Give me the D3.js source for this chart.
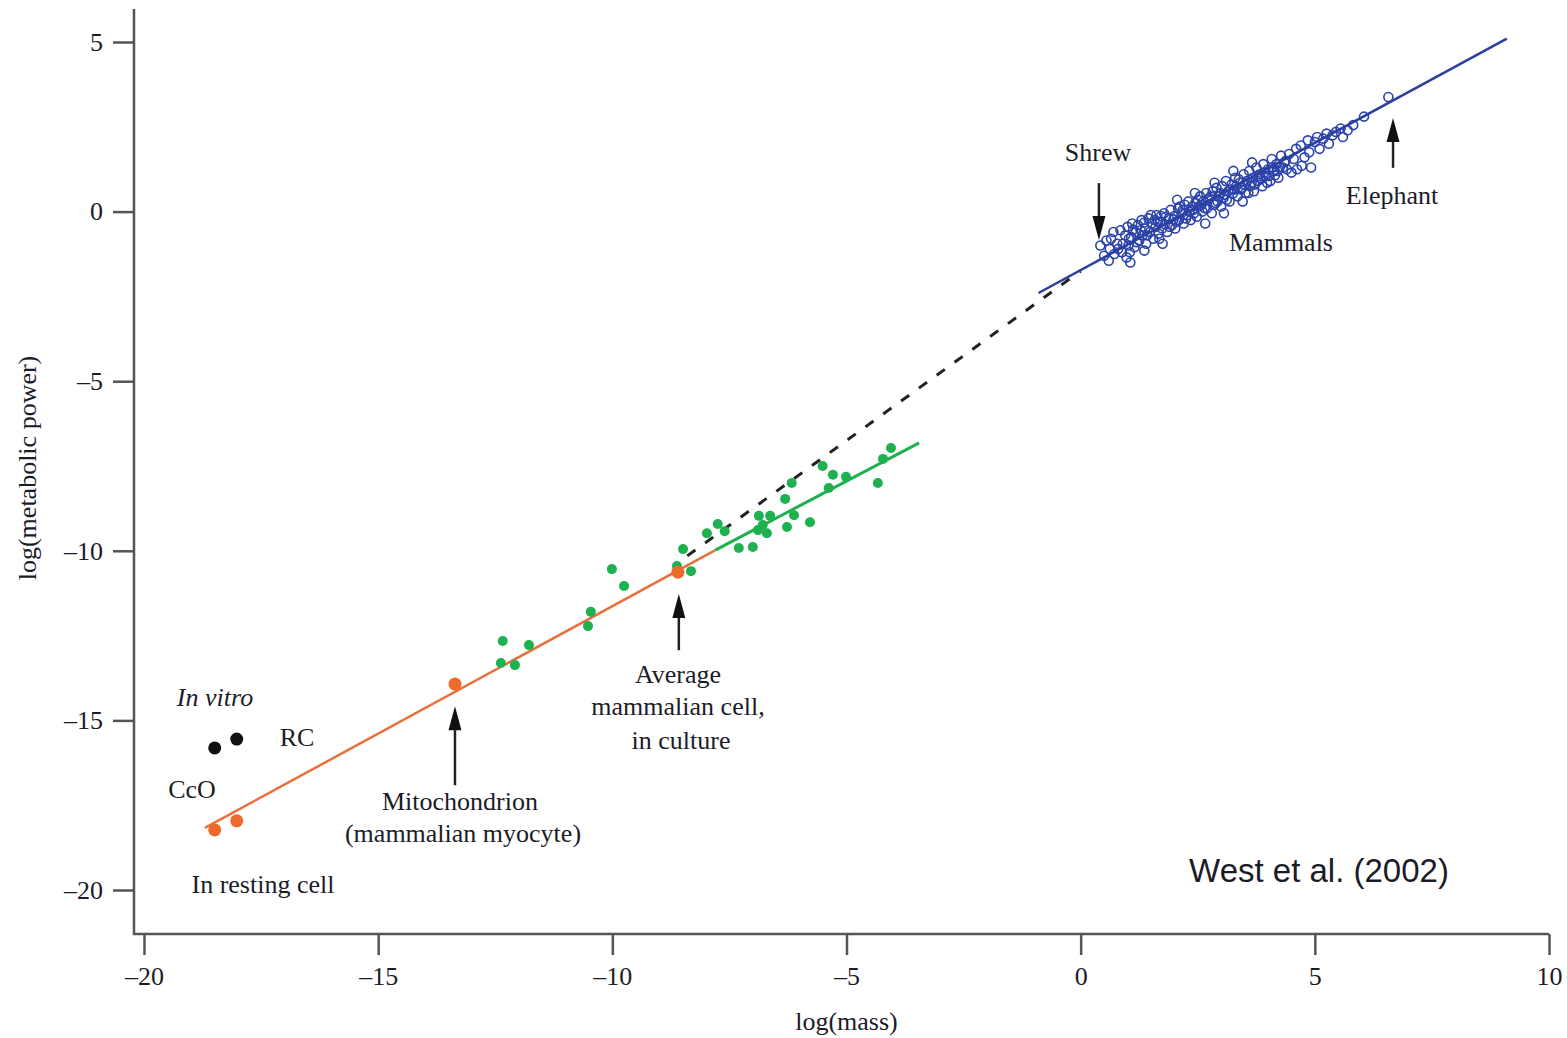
<!DOCTYPE html>
<html>
<head>
<meta charset="utf-8">
<script src="https://cdn.jsdelivr.net/npm/d3@7"></script>
<style>
  body { margin: 0; background: #fff; }
  svg text { font-family: "Liberation Serif", "DejaVu Serif", serif; fill: #1c1c28; }
  .axis path { display: none; }
  .axis line { stroke: #555; stroke-width: 2.5; }
  .axis text { font-size: 26px; font-family: "Liberation Serif", serif; fill: #1c1c28; }
</style>
</head>
<body>
<script>
// ticks
var xTicks = [-20, -15, -10, -5, 0, 5, 10];
var yTicks = [-20, -15, -10, -5, 0, 5];

// in vitro (black)
var inVitro = [[-18.49, -15.81], [-18.02, -15.55]];

// orange points: resting cell, mitochondrion, average cell
var orangePts = [[-18.49, -18.23], [-18.02, -17.96], [-13.36, -13.93], [-8.60, -10.63]];

// green points
var greenPts = [
  [-12.38, -13.31], [-12.08, -13.37], [-12.34, -12.66], [-11.78, -12.78],
  [-10.52, -12.22], [-10.46, -11.80], [-10.01, -10.54], [-9.75, -11.04],
  [-8.49, -9.95], [-8.32, -10.60], [-8.62, -10.45],
  [-7.98, -9.48], [-7.75, -9.21], [-7.60, -9.42], [-7.30, -9.92], [-7.00, -9.89],
  [-6.89, -9.39], [-6.87, -8.97], [-6.79, -9.24], [-6.70, -9.48], [-6.63, -8.97],
  [-6.31, -8.47], [-6.27, -9.30], [-6.17, -8.00], [-6.12, -8.95], [-5.78, -9.16],
  [-5.51, -7.50], [-5.38, -8.15], [-5.29, -7.76], [-5.01, -7.82],
  [-4.33, -8.00], [-4.22, -7.29], [-4.05, -6.97]
];

// mammals (open circles)
var mammals = [
  [0.42, -1.00], [0.50, -1.30], [0.55, -0.85], [0.62, -1.10], [0.65, -0.80], [0.70, -0.60],
  [0.72, -1.25], [0.78, -0.95], [0.80, -1.10], [0.85, -0.55], [0.88, -1.20], [0.90, -0.95],
  [0.95, -0.70], [0.98, -1.35], [1.00, -0.45], [1.02, -1.00], [1.03, -0.80], [1.05, -1.20],
  [1.08, -0.75], [1.10, -0.35], [1.12, -0.53], [1.15, -1.05], [1.18, -0.60], [1.20, -0.90],
  [1.22, -0.40], [1.25, -0.85], [1.28, -0.55], [1.30, -0.25], [1.32, -0.70], [1.35, -0.33],
  [1.38, -0.50], [1.40, -0.95], [1.42, -0.70], [1.45, -0.20], [1.48, -0.60], [1.50, -0.10],
  [1.52, -0.35], [1.55, -0.80], [1.58, -0.25], [1.60, -0.45], [1.62, -0.10], [1.65, -0.30],
  [1.66, -0.65], [1.68, -0.80], [1.70, -0.30], [1.72, -0.13], [1.74, -0.50], [1.78, -0.05],
  [1.80, -0.37], [1.82, -0.15], [1.85, -0.60], [1.88, -0.20], [1.90, -0.45], [1.92, 0.05],
  [1.95, -0.40], [1.98, -0.23], [2.00, -0.13], [2.02, -0.50], [2.05, -0.30], [2.08, 0.10],
  [2.10, -0.25], [2.12, 0.15], [2.15, -0.05], [2.18, 0.05], [2.20, -0.35], [2.22, 0.20],
  [2.25, -0.20], [2.28, -0.10], [2.30, 0.30], [2.32, 0.00], [2.35, -0.25], [2.38, 0.15],
  [2.40, 0.05], [2.42, -0.05], [2.45, 0.25], [2.48, -0.15], [2.50, 0.35], [2.52, 0.15],
  [2.55, 0.45], [2.58, 0.20], [2.60, 0.00], [2.62, 0.30], [2.65, 0.10], [2.68, 0.55],
  [2.70, 0.10], [2.72, 0.35], [2.75, 0.40], [2.78, 0.45], [2.80, -0.05], [2.82, 0.60],
  [2.85, 0.20], [2.88, 0.25], [2.90, 0.70], [2.92, 0.30], [2.95, 0.45], [2.98, 0.55],
  [3.00, 0.15], [3.02, 0.75], [3.05, 0.40], [3.08, 0.50], [3.10, 0.90], [3.12, 0.35],
  [3.15, 0.60], [3.18, 0.30], [3.20, 0.65], [3.22, 0.80], [3.25, 0.53], [3.28, 0.65],
  [3.30, 1.00], [3.32, 0.75], [3.35, 0.45], [3.38, 0.95], [3.40, 0.85], [3.42, 0.65],
  [3.45, 0.70], [3.48, 1.10], [3.50, 0.80], [3.52, 0.55], [3.55, 0.90], [3.58, 0.55],
  [3.60, 1.20], [3.62, 0.75], [3.65, 0.85], [3.68, 1.00], [3.70, 0.60], [3.72, 0.80],
  [3.75, 1.30], [3.78, 0.90], [3.80, 1.05], [3.82, 1.10], [3.85, 0.97], [3.88, 0.75],
  [3.90, 1.40], [3.92, 1.15], [3.95, 1.05], [3.98, 0.85], [4.00, 1.25], [4.02, 1.05],
  [4.05, 0.90], [4.08, 1.55], [4.10, 1.30], [4.12, 1.20], [4.15, 1.07], [4.18, 1.40],
  [4.20, 1.20], [4.22, 1.00], [4.25, 1.30], [4.28, 1.65], [4.32, 1.30], [4.35, 1.45],
  [4.38, 1.50], [4.40, 1.25], [4.45, 1.70], [4.50, 1.15], [4.55, 1.55], [4.60, 1.85],
  [4.62, 1.25], [4.70, 1.95], [4.72, 1.35], [4.78, 1.60], [4.85, 2.10], [4.88, 1.75],
  [4.92, 1.30], [5.00, 2.05], [5.05, 2.20], [5.10, 1.85], [5.18, 2.15], [5.25, 2.30],
  [5.30, 2.00], [5.38, 2.25], [5.45, 2.35], [5.55, 2.45], [5.60, 2.20], [5.70, 2.40],
  [5.82, 2.55], [6.05, 2.80], [6.57, 3.38],
  [0.60, -1.45], [1.06, -1.50], [1.36, -1.15], [1.75, -0.95], [2.06, 0.35], [2.44, 0.55],
  [2.86, 0.85], [3.26, 1.20], [3.66, 1.45], [2.66, -0.35], [3.06, -0.05], [3.46, 0.30]
];

// fitted lines (end points)
var blueFit = [[-0.9, -2.4], [9.1, 5.1]];
var dashFit = [[-8.4, -10.15], [0.0, -1.75]];
var greenFit = [[-7.8, -9.98], [-3.45, -6.82]];
var orangeFit = [[-18.7, -18.17], [-7.8, -9.98]];

var W = 1567, H = 1038;
var svg = d3.select("body").append("svg").attr("width", W).attr("height", H);

var x = d3.scaleLinear().domain([-20, 10]).range([144, 1549]);
var y = d3.scaleLinear().domain([-20, 5]).range([890, 42]);

var axisX = 134, axisY = 934;

function fmt(d) { return d < 0 ? "\u2013" + Math.abs(d) : d; }

// axes
svg.append("g")
    .attr("class", "axis")
    .attr("transform", "translate(" + axisX + ",0)")
    .call(d3.axisLeft(y).tickValues(yTicks).tickSize(21).tickPadding(10).tickFormat(fmt));

svg.append("g")
    .attr("class", "axis")
    .attr("transform", "translate(0," + axisY + ")")
    .call(d3.axisBottom(x).tickValues(xTicks).tickSize(21).tickPadding(12).tickFormat(fmt));

svg.append("path")
    .attr("d", "M" + axisX + ",9V" + axisY + "H" + x(10))
    .attr("fill", "none").attr("stroke", "#555").attr("stroke-width", 2.5);

svg.append("text")
    .attr("x", x(-5)).attr("y", 1030)
    .attr("text-anchor", "middle").attr("font-size", 26)
    .text("log(mass)");

svg.append("text")
    .attr("transform", "translate(36,468) rotate(-90)")
    .attr("text-anchor", "middle").attr("font-size", 26)
    .text("log(metabolic power)");

var line = d3.line().x(function(d) { return x(d[0]); }).y(function(d) { return y(d[1]); });

// mammals
svg.append("g").selectAll("circle")
    .data(mammals)
    .enter().append("circle")
      .attr("cx", function(d) { return x(d[0]); })
      .attr("cy", function(d) { return y(d[1]); })
      .attr("r", 4.5)
      .attr("fill", "none")
      .attr("stroke", "#2a42aa")
      .attr("stroke-width", 1.6);

svg.append("path").datum(dashFit).attr("d", line)
    .attr("fill", "none").attr("stroke", "#222").attr("stroke-width", 3)
    .attr("stroke-dasharray", "10,12");
svg.append("path").datum(blueFit).attr("d", line)
    .attr("fill", "none").attr("stroke", "#2a3f9e").attr("stroke-width", 2.5);
svg.append("path").datum(orangeFit).attr("d", line)
    .attr("fill", "none").attr("stroke", "#e8703a").attr("stroke-width", 2.5);

// green points
svg.append("g").selectAll("circle")
    .data(greenPts)
    .enter().append("circle")
      .attr("cx", function(d) { return x(d[0]); })
      .attr("cy", function(d) { return y(d[1]); })
      .attr("r", 5)
      .attr("fill", "#1db150");

svg.append("path").datum(greenFit).attr("d", line)
    .attr("fill", "none").attr("stroke", "#1db150").attr("stroke-width", 3);

svg.append("g").selectAll("circle")
    .data(orangePts)
    .enter().append("circle")
      .attr("cx", function(d) { return x(d[0]); })
      .attr("cy", function(d) { return y(d[1]); })
      .attr("r", 6.5)
      .attr("fill", "#ee6a2c");

svg.append("g").selectAll("circle")
    .data(inVitro)
    .enter().append("circle")
      .attr("cx", function(d) { return x(d[0]); })
      .attr("cy", function(d) { return y(d[1]); })
      .attr("r", 6.5)
      .attr("fill", "#111");

// arrows: x, from y, to y (tip), in data units
function arrow(ax, y0, y1) {
  var px = x(ax), p0 = y(y0), p1 = y(y1);
  var dir = p1 > p0 ? 1 : -1;
  var base = p1 - dir * 24;
  svg.append("line")
      .attr("x1", px).attr("y1", p0).attr("x2", px).attr("y2", base)
      .attr("stroke", "#222").attr("stroke-width", 2.5);
  svg.append("path")
      .attr("d", "M" + (px - 6.5) + "," + base + "L" + (px + 6.5) + "," + base + "L" + px + "," + p1 + "Z")
      .attr("fill", "#111");
}
arrow(0.39, 0.84, -0.84);
arrow(6.67, 1.29, 2.76);
arrow(-8.58, -12.93, -11.27);
arrow(-13.36, -16.91, -14.58);

function label(px, py, txt, opts) {
  opts = opts || {};
  svg.append("text")
      .attr("x", px).attr("y", py)
      .attr("text-anchor", "middle")
      .attr("font-size", opts.size || 26)
      .attr("font-style", opts.italic ? "italic" : null)
      .style("font-family", opts.family || null)
      .text(txt);
}
label(1098, 161, "Shrew");
label(1392, 204, "Elephant");
label(1281, 251, "Mammals");
label(678, 683, "Average");
label(678, 715, "mammalian cell,");
label(681, 749, "in culture");
label(460, 810, "Mitochondrion");
label(463, 842, "(mammalian myocyte)");
label(215, 706, "In vitro", { italic: true });
label(297, 746, "RC");
label(192, 798, "CcO");
label(263, 893, "In resting cell");
label(1319, 882, "West et al. (2002)", { size: 33, family: "'Liberation Sans', 'Open Sans', sans-serif" });
</script>
</body>
</html>
